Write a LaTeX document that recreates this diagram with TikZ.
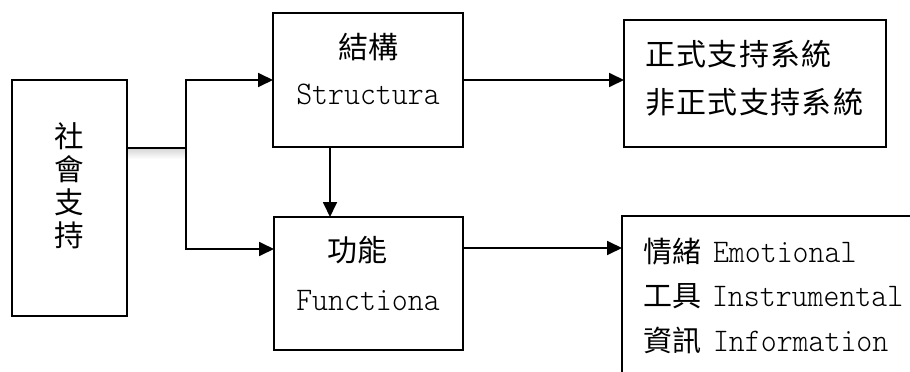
\documentclass[tikz,border=0pt]{standalone}
\usepackage{fontspec}
\newfontfamily\cjk{Noto Sans CJK TC}
\newfontfamily\cjkw{Noto Sans CJK TC}[LetterSpace=4.5]
\newfontfamily\latmono{lmmonolt10-regular.otf}[FakeStretch=0.92]
\newcommand\myCJ{\cjk\fontsize{29}{40}\selectfont}
\newcommand\myCJb{\cjk\fontsize{30}{40}\selectfont}
\newcommand\myCJw{\cjkw\fontsize{30}{40}\selectfont}
\newcommand\myLat{\latmono\fontsize{33}{40}\selectfont}
\usetikzlibrary{arrows.meta,calc}
\begin{document}
\begin{tikzpicture}[x=1pt,y=-1pt,
  box/.style={draw, line width=1.8pt, inner sep=0pt, outer sep=0pt},
  arr/.style={-{Triangle[length=15pt,width=14pt]}, line width=1.8pt},
  ln/.style={line width=1.8pt},
  txt/.style={inner sep=0pt, outer sep=0pt},
]
\useasboundingbox (0,0) rectangle (910,372);
\clip (0,0) rectangle (910,372);
% boxes
\node[box, minimum width=115pt, minimum height=236pt] (soc) at (69.5,198) {};
\node[box, minimum width=190pt, minimum height=134pt] (str) at (368,80) {};
\node[box, minimum width=189pt, minimum height=133pt] (fun) at (368.5,283.5) {};
\node[box, minimum width=262pt, minimum height=127pt] (form) at (755,83.5) {};
\node[box, minimum width=320pt, minimum height=220pt] (info) at (782,326) {};
% texts
\node[txt, align=center, font=\cjk\fontsize{29.5}{33}\selectfont] (soct) at (69.5,186) {社\\會\\支\\持};
\node[txt, anchor=base, font=\myCJb] (strcn) at (368,58) {結構};
\node[txt, anchor=base, font=\myLat] (stren) at (368,104) {Structura};
\node[txt, anchor=base, font=\myCJb] (funcn) at (357,261) {功能};
\node[txt, anchor=base, font=\myLat] (funen) at (368,310) {Functiona};
\node[txt, anchor=base west, font=\myCJw] (f1) at (645,65) {正式支持系統};
\node[txt, anchor=base west, font=\myCJw] (f2) at (645,113) {非正式支持系統};
\node[txt, anchor=base west] (i1) at (643,262) {\makebox[70pt][l]{\myCJ 情緒}\myLat Emotional};
\node[txt, anchor=base west] (i2) at (643,306.5) {\makebox[69pt][l]{\myCJ 工具}\myLat Instrumental};
\node[txt, anchor=base west] (i3) at (643,351) {\makebox[70pt][l]{\myCJ 資訊}\myLat Information};
% connectors
\coordinate (br) at (186,148);
\shade[top color=gray!30, bottom color=white, draw=none] ($(soc.east |- br)+(1,1)$) rectangle ($(br)+(-1,11)$);
\draw[ln] (soc.east |- br) -- (br);
\draw[arr] (br) |- (str.west);
\coordinate (fin) at ($(fun.west)+(0,-34.5)$);
\draw[arr] (br) |- (fin);
\draw[arr] (str.east) -- (str.east -| form.west);
\coordinate (sd) at ($(str.south)+(-38,0)$);
\draw[arr] (sd) -- (sd |- fun.north);
\coordinate (fo) at ($(fun.east)+(0,-35.5)$);
\draw[arr] (fo) -- (fo -| info.west);
\end{tikzpicture}
\end{document}
